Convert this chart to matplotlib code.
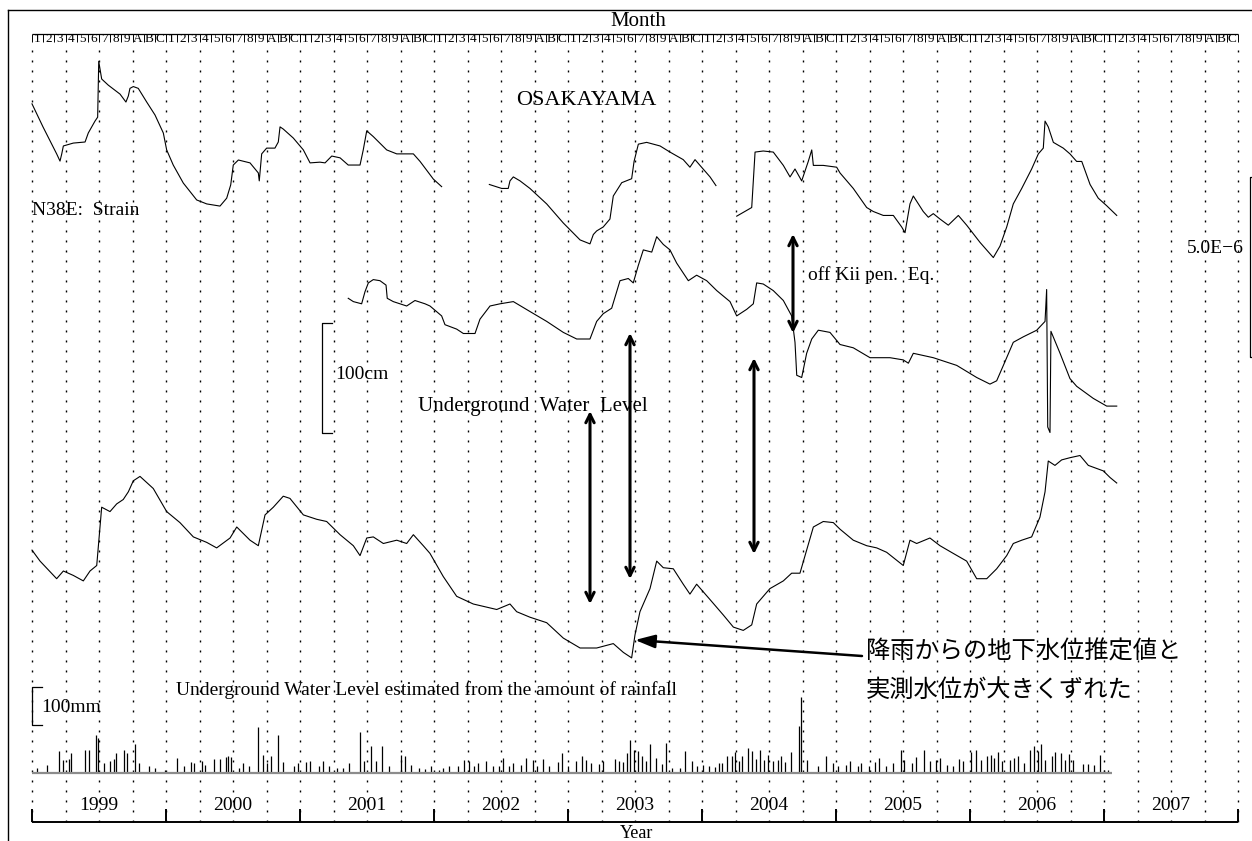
import matplotlib
matplotlib.use("Agg")
import matplotlib.pyplot as plt

# ---- calendar labels -------------------------------------------------------
YEARS = [1999, 2000, 2001, 2002, 2003, 2004, 2005, 2006, 2007]
MONTH_LABELS = ["1", "2", "3", "4", "5", "6", "7", "8", "9", "A", "B", "C"]

# ---- N38E strain (1e-6, relative), three recorded segments -----------------
strain_t1 = [1999.000, 1999.082, 1999.184, 1999.209, 1999.222, 1999.234, 1999.308, 1999.396,
             1999.420, 1999.470, 1999.490, 1999.498, 1999.520, 1999.569, 1999.657, 1999.701,
             1999.719, 1999.731, 1999.756, 1999.793, 1999.856, 1999.918, 1999.980, 2000.005,
             2000.054, 2000.129, 2000.229, 2000.304, 2000.403, 2000.453, 2000.483, 2000.502,
             2000.540, 2000.627, 2000.689, 2000.696, 2000.714, 2000.751, 2000.813, 2000.838,
             2000.851, 2000.875, 2000.950, 2001.025, 2001.075, 2001.149, 2001.187, 2001.237,
             2001.299, 2001.360, 2001.448, 2001.472, 2001.498, 2001.547, 2001.647, 2001.722,
             2001.846, 2001.896, 2001.995, 2002.057]
strain_v1 = [4.06, 3.42, 2.67, 2.47, 2.67, 2.89, 2.97, 3.00, 3.25, 3.58, 3.69, 5.24, 4.75, 4.58,
             4.33, 4.11, 4.28, 4.49, 4.54, 4.49, 4.11, 3.75, 3.25, 2.78, 2.36, 1.86, 1.39, 1.28,
             1.22, 1.44, 1.81, 2.36, 2.50, 2.42, 2.14, 1.92, 2.67, 2.83, 2.83, 3.00, 3.42, 3.36,
             3.11, 2.78, 2.42, 2.44, 2.42, 2.61, 2.56, 2.36, 2.36, 2.78, 3.31, 3.15, 2.78, 2.67,
             2.67, 2.46, 1.97, 1.76]
strain_t2 = [2002.413, 2002.505, 2002.554, 2002.567, 2002.592, 2002.642, 2002.716, 2002.841,
             2002.965, 2003.090, 2003.164, 2003.189, 2003.214, 2003.263, 2003.313, 2003.338,
             2003.401, 2003.475, 2003.493, 2003.525, 2003.587, 2003.687, 2003.761, 2003.860,
             2003.910, 2003.948, 2003.985, 2004.060, 2004.104]
strain_v2 = [1.82, 1.71, 1.71, 1.92, 2.03, 1.92, 1.71, 1.28, 0.75, 0.28, 0.17, 0.43, 0.53, 0.64,
             0.86, 1.50, 1.87, 1.98, 2.46, 2.94, 2.99, 2.89, 2.72, 2.51, 2.30, 2.51, 2.35, 2.03,
             1.79]
strain_t3 = [2004.259, 2004.371, 2004.396, 2004.457, 2004.532, 2004.607, 2004.657, 2004.694,
             2004.744, 2004.793, 2004.819, 2004.831, 2004.905, 2005.005, 2005.030, 2005.129,
             2005.229, 2005.278, 2005.353, 2005.428, 2005.490, 2005.515, 2005.552, 2005.577,
             2005.651, 2005.689, 2005.726, 2005.776, 2005.838, 2005.913, 2005.975, 2006.075,
             2006.174, 2006.224, 2006.274, 2006.323, 2006.386, 2006.460, 2006.510, 2006.547,
             2006.560, 2006.584, 2006.622, 2006.696, 2006.746, 2006.796, 2006.834, 2006.896,
             2006.957, 2007.020, 2007.095]
strain_v3 = [0.94, 1.18, 2.72, 2.75, 2.72, 2.35, 2.03, 2.25, 1.92, 2.46, 2.78, 2.35, 2.35, 2.30,
             2.14, 1.71, 1.18, 1.07, 0.96, 0.96, 0.64, 0.48, 1.28, 1.50, 1.07, 0.91, 1.01, 0.86,
             0.69, 0.96, 0.69, 0.21, -0.21, 0.11, 0.64, 1.28, 1.71, 2.25, 2.67, 2.83, 3.58, 3.42,
             2.99, 2.83, 2.67, 2.46, 2.46, 1.82, 1.44, 1.23, 0.96]

# ---- observed underground water level (cm, relative) -----------------------
water_t = [2001.360, 2001.398, 2001.460, 2001.485, 2001.510, 2001.547, 2001.597, 2001.642,
           2001.651, 2001.696, 2001.796, 2001.858, 2001.933, 2001.970, 2002.057, 2002.082,
           2002.169, 2002.219, 2002.306, 2002.343, 2002.418, 2002.493, 2002.592, 2002.716,
           2002.841, 2002.965, 2003.065, 2003.164, 2003.214, 2003.263, 2003.326, 2003.388,
           2003.450, 2003.487, 2003.525, 2003.562, 2003.625, 2003.662, 2003.711, 2003.761,
           2003.811, 2003.898, 2003.960, 2004.035, 2004.110, 2004.209, 2004.259, 2004.334,
           2004.383, 2004.408, 2004.457, 2004.532, 2004.607, 2004.669, 2004.694, 2004.707,
           2004.744, 2004.781, 2004.819, 2004.868, 2004.955, 2005.030, 2005.129, 2005.254,
           2005.403, 2005.502, 2005.540, 2005.577, 2005.726, 2005.901, 2006.050, 2006.149,
           2006.199, 2006.249, 2006.323, 2006.398, 2006.498, 2006.560, 2006.572, 2006.580,
           2006.597, 2006.604, 2006.672, 2006.746, 2006.796, 2006.920, 2007.020, 2007.095]
water_cm = [47, 44, 42, 53, 61, 64, 63, 59, 47, 44, 40, 45, 42, 40, 31, 23, 19, 15, 15, 28,
            40, 42, 44, 35, 26, 16, 10, 10, 26, 33, 38, 63, 65, 61, 77, 91, 89, 103, 96, 91,
            79, 63, 68, 63, 54, 44, 31, 37, 42, 61, 60, 54, 45, 31, 7, -23, -25, -3, 10, 18,
            16, 5, 2, -7, -7, -9, -12, -3, -7, -14, -25, -31, -28, -14, 7, 12, 18, 26, 55, -70,
            -75, 17, -3, -26, -33, -44, -51, -51]

# ---- water level estimated from rainfall (cm, relative) --------------------
est_t = [1999.000, 1999.060, 1999.184, 1999.234, 1999.308, 1999.383, 1999.433, 1999.483,
         1999.520, 1999.582, 1999.632, 1999.681, 1999.719, 1999.756, 1999.806, 1999.905,
         2000.005, 2000.104, 2000.204, 2000.304, 2000.378, 2000.478, 2000.528, 2000.627,
         2000.689, 2000.739, 2000.801, 2000.875, 2000.925, 2001.025, 2001.125, 2001.199,
         2001.299, 2001.398, 2001.448, 2001.498, 2001.547, 2001.622, 2001.722, 2001.796,
         2001.846, 2001.920, 2001.970, 2002.069, 2002.169, 2002.293, 2002.468, 2002.567,
         2002.617, 2002.716, 2002.841, 2002.965, 2003.090, 2003.214, 2003.338, 2003.413,
         2003.475, 2003.500, 2003.537, 2003.612, 2003.662, 2003.711, 2003.786, 2003.860,
         2003.910, 2003.960, 2004.060, 2004.159, 2004.234, 2004.308, 2004.371, 2004.408,
         2004.507, 2004.607, 2004.669, 2004.731, 2004.781, 2004.831, 2004.905, 2004.980,
         2005.030, 2005.129, 2005.229, 2005.304, 2005.378, 2005.502, 2005.552, 2005.602,
         2005.701, 2005.776, 2005.875, 2005.975, 2006.050, 2006.125, 2006.199, 2006.274,
         2006.323, 2006.386, 2006.460, 2006.522, 2006.560, 2006.584, 2006.634, 2006.684,
         2006.746, 2006.821, 2006.883, 2006.995, 2007.045, 2007.095]
est_cm = [9, -1, -17, -10, -14, -19, -10, -5, 48, 44, 51, 55, 62, 72, 76, 65, 44, 34, 21, 16,
          11, 20, 30, 18, 13, 41, 48, 58, 56, 41, 37, 35, 23, 13, 4, 20, 21, 15, 18, 15,
          23, 13, 6, -15, -33, -40, -45, -40, -47, -52, -57, -71, -80, -80, -76, -84, -89, -68,
          -47, -26, -1, -7, -8, -22, -31, -22, -36, -50, -61, -64, -59, -40, -26, -19, -12, -12,
          9, 30, 35, 34, 28, 18, 13, 11, 7, -5, 18, 15, 20, 13, 6, -1, -17, -17, -8, 4,
          15, 18, 21, 39, 62, 90, 86, 91, 93, 95, 86, 81, 75, 70]

# ---- daily rainfall (mm), main events ---------------------------------------
rain_t = [1999.039, 1999.115, 1999.202, 1999.232, 1999.273, 1999.290, 1999.395, 1999.424,
          1999.477, 1999.494, 1999.541, 1999.582, 1999.611, 1999.629, 1999.687, 1999.711,
          1999.769, 1999.798, 1999.874, 1999.915, 1999.991, 2000.079, 2000.137, 2000.184,
          2000.207, 2000.265, 2000.289, 2000.359, 2000.400, 2000.447, 2000.464, 2000.487,
          2000.546, 2000.575, 2000.622, 2000.686, 2000.721, 2000.750, 2000.780, 2000.838,
          2000.873, 2000.955, 2000.984, 2001.042, 2001.072, 2001.142, 2001.171, 2001.218,
          2001.276, 2001.323, 2001.364, 2001.451, 2001.480, 2001.527, 2001.568, 2001.609,
          2001.667, 2001.755, 2001.784, 2001.831, 2001.889, 2001.936, 2001.977, 2002.035,
          2002.065, 2002.111, 2002.181, 2002.222, 2002.263, 2002.298, 2002.327, 2002.386,
          2002.444, 2002.485, 2002.514, 2002.561, 2002.590, 2002.649, 2002.684, 2002.736,
          2002.766, 2002.812, 2002.859, 2002.929, 2002.952, 2002.999, 2003.057, 2003.104,
          2003.133, 2003.174, 2003.233, 2003.262, 2003.350, 2003.379, 2003.408, 2003.443,
          2003.466, 2003.496, 2003.525, 2003.554, 2003.583, 2003.612, 2003.653, 2003.700,
          2003.729, 2003.776, 2003.835, 2003.875, 2003.922, 2003.963, 2004.004, 2004.050,
          2004.097, 2004.126, 2004.150, 2004.185, 2004.226, 2004.243, 2004.273, 2004.302,
          2004.343, 2004.372, 2004.401, 2004.430, 2004.459, 2004.489, 2004.529, 2004.564,
          2004.588, 2004.623, 2004.664, 2004.722, 2004.740, 2004.781, 2004.868, 2004.927,
          2004.974, 2005.014, 2005.073, 2005.102, 2005.161, 2005.190, 2005.248, 2005.289,
          2005.324, 2005.371, 2005.423, 2005.482, 2005.511, 2005.569, 2005.598, 2005.657,
          2005.698, 2005.744, 2005.774, 2005.832, 2005.873, 2005.920, 2005.949, 2006.007,
          2006.048, 2006.083, 2006.124, 2006.153, 2006.182, 2006.212, 2006.241, 2006.299,
          2006.328, 2006.358, 2006.404, 2006.445, 2006.475, 2006.504, 2006.533, 2006.562,
          2006.609, 2006.632, 2006.679, 2006.708, 2006.738, 2006.767, 2006.843, 2006.883,
          2006.924, 2006.971, 2007.000, 2007.030]
rain_mm = [13, 22, 57, 35, 37, 53, 60, 60, 99, 92, 26, 31, 37, 53, 61, 53, 77, 26, 18, 13,
           9, 39, 18, 28, 26, 31, 22, 37, 37, 42, 46, 42, 13, 26, 18, 121, 48, 26, 44, 101,
           28, 18, 26, 28, 31, 18, 31, 18, 13, 13, 26, 107, 31, 70, 31, 70, 18, 48, 46, 22,
           13, 11, 18, 9, 13, 18, 18, 35, 31, 18, 26, 31, 18, 18, 39, 18, 26, 22, 39, 35,
           18, 37, 18, 28, 53, 18, 31, 44, 35, 26, 25, 31, 37, 31, 28, 53, 86, 61, 57, 44,
           31, 77, 39, 25, 79, 13, 13, 57, 31, 18, 22, 18, 16, 26, 26, 44, 46, 54, 31, 44,
           66, 57, 37, 60, 35, 48, 31, 35, 46, 28, 54, 123, 200, 35, 18, 46, 26, 18, 22, 31,
           19, 26, 18, 28, 39, 18, 26, 61, 35, 26, 42, 61, 31, 35, 39, 22, 18, 37, 31, 55,
           61, 33, 44, 48, 39, 54, 31, 35, 39, 44, 26, 61, 70, 57, 77, 35, 44, 56, 53, 35,
           51, 35, 25, 25, 22, 48, 9, 9]

# ---- page geometry ----------------------------------------------------------
W, H, DPI = 1252, 841, 100
X0_PX, PX_PER_YEAR = 32, 134
T0 = 1999 - X0_PX / PX_PER_YEAR
T1 = T0 + W / PX_PER_YEAR
SERIF = "Liberation Serif"
JP = ["Noto Sans CJK JP", "DejaVu Sans"]
LW_TRACE = 0.8

fig = plt.figure(figsize=(W / DPI, H / DPI), dpi=DPI)

# time axis: x in years, y in pixel rows (downwards)
ax = fig.add_axes([0, 0, 1, 1])
ax.set_xlim(T0, T1)
ax.set_ylim(H, 0)
ax.axis("off")

# free layout layer in pixels
lay = fig.add_axes([0, 0, 1, 1])
lay.set_xlim(0, W)
lay.set_ylim(H, 0)
lay.axis("off")
lay.patch.set_visible(False)


def trace_axes(base_px, px_per_unit):
    """Transparent overlay sharing the time axis; value 0 sits at row base_px."""
    a = fig.add_axes([0, 0, 1, 1])
    a.set_xlim(T0, T1)
    a.set_ylim((base_px - H) / px_per_unit, base_px / px_per_unit)
    a.axis("off")
    a.patch.set_visible(False)
    return a


def scale_bar(a, t, lo, hi, tick):
    a.plot([t + tick, t, t, t + tick], [hi, hi, lo, lo], color="black", lw=0.9,
           clip_on=False)


# outer frame (top and left edges)
lay.plot([8, W], [10, 10], color="black", lw=1.0, clip_on=False)
lay.plot([8, 8], [10, H], color="black", lw=1.0, clip_on=False)

# month strip
t_end = YEARS[-1] + 1
ax.hlines(33.5, YEARS[0], t_end, color="black", lw=0.9)
month_edges = [yr + m / 12 for yr in YEARS for m in range(12)] + [t_end]
ax.vlines(month_edges, 33.5, 42, color="black", lw=0.7)
for yr in YEARS:
    for m, lab in enumerate(MONTH_LABELS):
        ax.text(yr + (m + 0.5) / 12, 39, lab, ha="center", va="center",
                fontsize=9.5, family=SERIF)
lay.text(638, 21, "Month", ha="center", va="center", fontsize=15, family=SERIF)

# quarterly dotted guides
quarters = [YEARS[0] + k / 4 for k in range(len(YEARS) * 4 + 1)]
ax.vlines(quarters, 50, 822, color="black", lw=1.0, linestyles=(0, (1.4, 5.8)))

# year axis at the bottom
ax.hlines(822, YEARS[0], t_end, color="black", lw=1.4)
ax.vlines(YEARS + [t_end], 809, 822, color="black", lw=1.4)
for yr in YEARS:
    ax.text(yr + 0.5, 805, str(yr), ha="center", va="center", fontsize=14, family=SERIF)
lay.text(637, 833, "Year", ha="center", va="center", fontsize=13, family=SERIF)

# strain
ax_s = trace_axes(250, 36)
for t, v in ((strain_t1, strain_v1), (strain_t2, strain_v2), (strain_t3, strain_v3)):
    ax_s.plot(t, v, color="black", lw=LW_TRACE)
scale_bar(ax_s, 2008.09, -2.97, 2.03, 0.06)

# observed water level
ax_w = trace_axes(350, 1.1)
ax_w.plot(water_t, water_cm, color="black", lw=LW_TRACE)
scale_bar(ax_w, 2001.164, -75, 25, 0.075)

# estimated water level
ax_e = trace_axes(560, 1.1)
ax_e.plot(est_t, est_cm, color="black", lw=LW_TRACE)

# rainfall
ax_r = trace_axes(773, 0.38)
ax_r.vlines(rain_t, 0, rain_mm, color="black", lw=0.9)
ax_r.hlines(0, YEARS[0], 2007.06, color="0.55", lw=1.6)
scale_bar(ax_r, 1999.0, 126, 226, 0.075)

# labels
lay.text(586, 100, "OSAKAYAMA", ha="center", va="center", fontsize=16, family=SERIF)
lay.text(32, 210, "N38E:  Strain", ha="left", va="center", fontsize=14, family=SERIF)
lay.text(1244, 248, "5.0E\u22126", ha="right", va="center", fontsize=14, family=SERIF)
lay.text(808, 275, "off Kii pen.  Eq.", ha="left", va="center", fontsize=14, family=SERIF)
lay.text(335, 374, "100cm", ha="left", va="center", fontsize=14, family=SERIF)
lay.text(418, 406, "Underground  Water  Level", ha="left", va="center", fontsize=15,
         family=SERIF)
lay.text(176, 690, "Underground Water Level estimated from the amount of rainfall",
         ha="left", va="center", fontsize=14, family=SERIF)
lay.text(41, 708, "100mm", ha="left", va="center", fontsize=14, family=SERIF)

# double-headed markers between records
both = dict(arrowstyle="<->,head_length=0.6,head_width=0.3", color="black", lw=2.2,
            shrinkA=0, shrinkB=0)
for x, top, bottom in ((590, 411, 604), (630, 333, 579), (754, 358, 554), (793, 234, 333)):
    lay.annotate("", xy=(x, top), xytext=(x, bottom), arrowprops=both)

# note on the 2003 discrepancy
lay.annotate("", xy=(635, 640), xytext=(862, 656),
             arrowprops=dict(arrowstyle="-|>,head_length=1.2,head_width=0.4",
                             color="black", lw=1.8, shrinkA=0, shrinkB=0))
lay.text(866, 652, "降雨からの地下水位推定値と", ha="left", va="center",
         fontsize=17.5, family=JP)
lay.text(866, 690, "実測水位が大きくずれた", ha="left", va="center",
         fontsize=17.5, family=JP)

fig.savefig("out.png", dpi=DPI)
